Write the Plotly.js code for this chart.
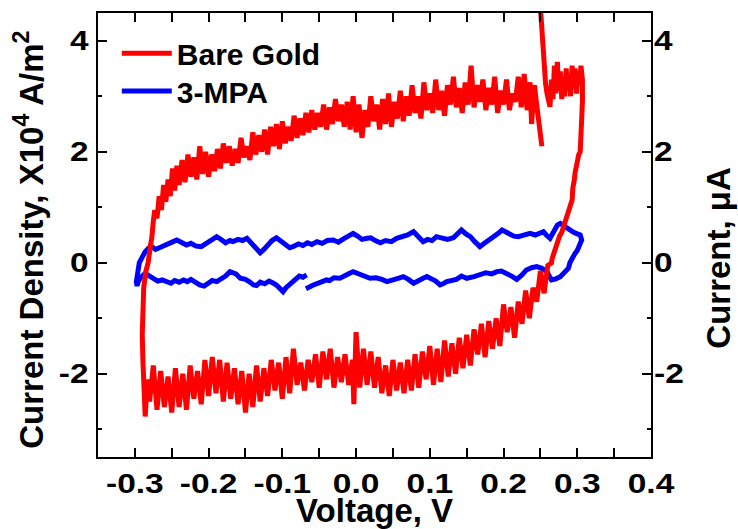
<!DOCTYPE html>
<html>
<head>
<meta charset="utf-8">
<script src="https://cdn.plot.ly/plotly-3.0.1.min.js"></script>
<style>html,body{margin:0;padding:0;background:#fff;}</style>
</head>
<body>
<div id="chart" style="width:738px;height:529px;"></div>
<script>
// Cyclic voltammograms: bare gold electrode vs. 3-MPA modified electrode.
// Voltage in V, current density in units of 1e4 A/m^2.

// Bare gold: initial surge at the positive end of the window
const goldSurgeV = [
  0.249, 0.2505, 0.252, 0.253, 0.254, 0.2555, 0.257, 0.259, 0.261, 0.263,
  0.265, 0.267, 0.269, 0.271, 0.273, 0.275, 0.277, 0.279, 0.281, 0.283,
  0.285, 0.287, 0.289, 0.291, 0.293, 0.295, 0.297, 0.299, 0.301, 0.303,
  0.305, 0.307
];
const goldSurgeJ = [
  4.80, 4.50, 4.19, 3.85, 3.53, 3.35, 3.23, 3.05, 2.93, 2.81,
  3.30, 2.95, 3.55, 3.05, 3.62, 3.10, 3.45, 2.95, 3.35, 3.00,
  3.50, 3.10, 3.40, 3.00, 3.55, 3.15, 3.50, 3.05, 3.45, 3.20,
  3.55, 3.30
];

// Bare gold: reverse (cathodic) sweep from +0.31 V down to -0.29 V
const goldReverseV = [
  0.307, 0.306, 0.305, 0.304, 0.302, 0.299, 0.297, 0.296, 0.294, 0.293,
  0.291, 0.288, 0.286, 0.284, 0.281, 0.279, 0.276, 0.274, 0.271, 0.268,
  0.266, 0.265, 0.260, 0.255, 0.250, 0.245, 0.240, 0.235, 0.230, 0.225,
  0.220, 0.215, 0.210, 0.205, 0.200, 0.195, 0.190, 0.185, 0.180, 0.175,
  0.170, 0.165, 0.160, 0.155, 0.150, 0.145, 0.140, 0.135, 0.130, 0.125,
  0.120, 0.115, 0.110, 0.105, 0.100, 0.095, 0.090, 0.085, 0.080, 0.075,
  0.070, 0.065, 0.060, 0.055, 0.050, 0.045, 0.040, 0.035, 0.030, 0.025,
  0.020, 0.015, 0.010, 0.005, 0.000, -0.003, -0.005, -0.010, -0.015, -0.020,
  -0.025, -0.030, -0.035, -0.040, -0.045, -0.050, -0.055, -0.060, -0.065, -0.070,
  -0.075, -0.080, -0.085, -0.090, -0.095, -0.100, -0.105, -0.110, -0.115, -0.120,
  -0.125, -0.130, -0.135, -0.140, -0.145, -0.150, -0.155, -0.160, -0.165, -0.170,
  -0.175, -0.180, -0.185, -0.190, -0.195, -0.200, -0.205, -0.210, -0.215, -0.220,
  -0.225, -0.230, -0.235, -0.240, -0.245, -0.250, -0.255, -0.260, -0.265, -0.270,
  -0.275, -0.280, -0.283, -0.286, -0.288, -0.289, -0.290, -0.2895, -0.288, -0.285,
  -0.282
];
const goldReverseJ = [
  2.90, 2.55, 2.30, 2.00, 1.95, 1.79, 1.62, 1.49, 1.35, 1.13,
  1.05, 0.89, 0.85, 0.72, 0.65, 0.55, 0.48, 0.41, 0.25, 0.17,
  0.08, 0.00, -0.05, -0.55, -0.15, -0.70, -0.45, -1.00, -0.50, -1.10,
  -0.70, -1.35, -0.80, -1.25, -0.75, -1.50, -1.00, -1.55, -1.05, -1.70,
  -1.10, -1.65, -1.20, -1.85, -1.30, -1.90, -1.35, -2.00, -1.45, -2.05,
  -1.40, -2.15, -1.55, -2.20, -1.50, -2.10, -1.60, -2.25, -1.65, -2.30,
  -1.75, -2.35, -1.80, -2.30, -1.75, -2.40, -1.85, -2.35, -1.70, -2.25,
  -1.60, -2.20, -1.55, -2.25, -1.25, -2.55, -1.75, -2.20, -1.65, -2.15,
  -1.70, -2.25, -1.55, -2.10, -1.60, -2.25, -1.65, -2.15, -1.75, -2.30,
  -1.80, -2.20, -1.55, -2.35, -1.70, -2.45, -1.80, -2.30, -1.75, -2.40,
  -1.90, -2.50, -1.85, -2.60, -2.00, -2.70, -1.95, -2.55, -1.90, -2.45,
  -1.80, -2.50, -1.75, -2.35, -1.70, -2.40, -1.75, -2.55, -1.95, -2.45,
  -1.85, -2.65, -2.00, -2.60, -1.90, -2.70, -2.05, -2.60, -1.95, -2.65,
  -1.85, -2.50, -2.10, -2.77, -2.30, -1.80, -1.30, -0.80, -0.45, -0.15,
  0.00
];

// Bare gold: forward (anodic) sweep back up to +0.25 V
const goldForwardV = [
  -0.279, -0.277, -0.275, -0.273, -0.270, -0.267, -0.264, -0.261, -0.258, -0.255,
  -0.252, -0.249, -0.246, -0.243, -0.240, -0.236, -0.232, -0.228, -0.224, -0.220,
  -0.216, -0.212, -0.208, -0.204, -0.200, -0.196, -0.192, -0.188, -0.184, -0.180,
  -0.176, -0.172, -0.168, -0.164, -0.160, -0.156, -0.152, -0.148, -0.144, -0.140,
  -0.136, -0.132, -0.128, -0.124, -0.120, -0.116, -0.112, -0.108, -0.104, -0.100,
  -0.096, -0.092, -0.088, -0.084, -0.080, -0.076, -0.072, -0.068, -0.064, -0.060,
  -0.056, -0.052, -0.048, -0.044, -0.040, -0.036, -0.032, -0.028, -0.024, -0.020,
  -0.016, -0.012, -0.008, -0.004, 0.000, 0.004, 0.008, 0.012, 0.016, 0.020,
  0.024, 0.028, 0.032, 0.036, 0.040, 0.044, 0.048, 0.052, 0.056, 0.060,
  0.064, 0.068, 0.072, 0.076, 0.080, 0.084, 0.088, 0.092, 0.096, 0.100,
  0.104, 0.108, 0.112, 0.116, 0.120, 0.124, 0.128, 0.132, 0.136, 0.140,
  0.144, 0.148, 0.152, 0.156, 0.160, 0.164, 0.168, 0.172, 0.176, 0.180,
  0.184, 0.188, 0.192, 0.196, 0.200, 0.204, 0.208, 0.212, 0.216, 0.220,
  0.224, 0.228, 0.232, 0.236, 0.238, 0.240, 0.242, 0.244, 0.246, 0.248,
  0.250, 0.252
];
const goldForwardJ = [
  0.30, 0.45, 0.75, 0.95, 0.80, 1.20, 0.95, 1.40, 1.10, 1.50,
  1.20, 1.70, 1.30, 1.75, 1.40, 1.85, 1.45, 1.95, 1.55, 1.90,
  1.50, 2.10, 1.60, 2.00, 1.55, 1.95, 1.65, 2.05, 1.70, 2.15,
  1.80, 2.10, 1.75, 2.05, 1.80, 2.25, 1.90, 2.10, 1.85, 2.35,
  1.95, 2.30, 2.00, 2.40, 1.95, 2.45, 2.10, 2.50, 2.05, 2.55,
  2.15, 2.45, 2.20, 2.65, 2.25, 2.60, 2.30, 2.70, 2.35, 2.75,
  2.40, 2.70, 2.45, 2.85, 2.40, 2.80, 2.50, 2.95, 2.55, 2.85,
  2.45, 2.90, 2.40, 3.00, 2.35, 2.85, 2.25, 2.75, 2.45, 3.00,
  2.55, 2.85, 2.40, 2.95, 2.50, 3.05, 2.45, 2.90, 2.60, 3.10,
  2.55, 3.00, 2.65, 3.20, 2.70, 3.00, 2.60, 3.25, 2.75, 3.05,
  2.70, 3.30, 2.75, 3.10, 2.65, 3.20, 2.85, 3.35, 2.80, 3.15,
  2.70, 3.25, 2.85, 3.55, 2.80, 3.20, 2.90, 3.30, 2.75, 3.15,
  2.85, 3.35, 2.70, 3.10, 2.85, 3.30, 2.75, 3.05, 2.90, 3.35,
  2.80, 3.40, 2.75, 3.25, 2.50, 3.05, 3.20, 2.95, 2.70, 2.45,
  2.25, 2.10
];

// 3-MPA modified electrode: one closed loop
const mpaV = [
  -0.067, -0.072, -0.077, -0.082, -0.085, -0.090, -0.095, -0.099, -0.104, -0.108,
  -0.112, -0.118, -0.124, -0.130, -0.135, -0.139, -0.145, -0.150, -0.157, -0.163,
  -0.167, -0.171, -0.177, -0.183, -0.189, -0.195, -0.200, -0.206, -0.212, -0.218,
  -0.224, -0.229, -0.234, -0.240, -0.246, -0.251, -0.257, -0.263, -0.269, -0.275,
  -0.280, -0.286, -0.290, -0.293, -0.296, -0.297, -0.298, -0.297, -0.296, -0.294,
  -0.290, -0.286, -0.281, -0.277, -0.272, -0.266, -0.260, -0.254, -0.248, -0.243,
  -0.237, -0.230, -0.224, -0.217, -0.210, -0.204, -0.197, -0.189, -0.183, -0.177,
  -0.171, -0.167, -0.160, -0.154, -0.148, -0.142, -0.136, -0.130, -0.125, -0.120,
  -0.114, -0.108, -0.102, -0.096, -0.090, -0.084, -0.078, -0.072, -0.066, -0.060,
  -0.053, -0.046, -0.039, -0.031, -0.024, -0.017, -0.010, -0.004, 0.002, 0.008,
  0.015, 0.020, 0.026, 0.033, 0.040, 0.048, 0.055, 0.062, 0.070, 0.078,
  0.084, 0.091, 0.097, 0.103, 0.109, 0.116, 0.124, 0.132, 0.138, 0.143,
  0.149, 0.155, 0.161, 0.168, 0.174, 0.180, 0.186, 0.192, 0.198, 0.204,
  0.209, 0.214, 0.220, 0.228, 0.236, 0.243, 0.249, 0.254, 0.258, 0.263,
  0.268, 0.273, 0.277, 0.282, 0.286, 0.290, 0.295, 0.300, 0.304, 0.306,
  0.303, 0.300, 0.297, 0.293, 0.290, 0.288, 0.283, 0.277, 0.271, 0.265,
  0.262, 0.259, 0.252, 0.245, 0.238, 0.231, 0.225, 0.218, 0.211, 0.204,
  0.197, 0.191, 0.184, 0.176, 0.168, 0.160, 0.150, 0.143, 0.136, 0.129,
  0.123, 0.118, 0.114, 0.108, 0.101, 0.096, 0.091, 0.085, 0.078, 0.071,
  0.064, 0.057, 0.050, 0.042, 0.035, 0.027, 0.019, 0.012, 0.005, -0.004,
  -0.010, -0.016, -0.022, -0.030, -0.036, -0.040, -0.046, -0.052, -0.058, -0.063,
  -0.068
];
const mpaJ = [
  -0.22, -0.26, -0.24, -0.30, -0.31, -0.38, -0.45, -0.52, -0.44, -0.40,
  -0.37, -0.33, -0.38, -0.35, -0.41, -0.40, -0.34, -0.30, -0.28, -0.20,
  -0.18, -0.16, -0.24, -0.30, -0.34, -0.32, -0.37, -0.42, -0.40, -0.34,
  -0.30, -0.34, -0.31, -0.35, -0.32, -0.37, -0.34, -0.31, -0.33, -0.28,
  -0.22, -0.19, -0.24, -0.28, -0.36, -0.42, -0.34, -0.22, -0.10, 0.00,
  0.10, 0.20, 0.27, 0.29, 0.24, 0.27, 0.30, 0.35, 0.38, 0.41,
  0.36, 0.32, 0.35, 0.30, 0.29, 0.34, 0.40, 0.47, 0.42, 0.36,
  0.40, 0.38, 0.42, 0.40, 0.44, 0.36, 0.26, 0.18, 0.24, 0.32,
  0.40, 0.45, 0.38, 0.32, 0.27, 0.30, 0.34, 0.31, 0.36, 0.33,
  0.38, 0.35, 0.40, 0.41, 0.37, 0.43, 0.48, 0.53, 0.48, 0.42,
  0.44, 0.45, 0.40, 0.36, 0.40, 0.38, 0.44, 0.47, 0.50, 0.56,
  0.47, 0.38, 0.42, 0.40, 0.47, 0.44, 0.42, 0.45, 0.52, 0.59,
  0.52, 0.47, 0.38, 0.29, 0.35, 0.40, 0.45, 0.52, 0.59, 0.55,
  0.50, 0.48, 0.47, 0.51, 0.53, 0.50, 0.54, 0.56, 0.50, 0.44,
  0.56, 0.68, 0.71, 0.66, 0.62, 0.60, 0.55, 0.52, 0.50, 0.41,
  0.30, 0.22, 0.17, 0.08, 0.00, -0.10, -0.18, -0.25, -0.29, -0.31,
  -0.24, -0.16, -0.10, -0.07, -0.09, -0.13, -0.22, -0.30, -0.24, -0.19,
  -0.15, -0.16, -0.20, -0.18, -0.22, -0.25, -0.28, -0.24, -0.30, -0.32,
  -0.34, -0.38, -0.40, -0.33, -0.27, -0.25, -0.28, -0.33, -0.37, -0.30,
  -0.25, -0.28, -0.31, -0.34, -0.30, -0.27, -0.28, -0.25, -0.22, -0.16,
  -0.20, -0.25, -0.28, -0.27, -0.32, -0.31, -0.35, -0.37, -0.40, -0.44,
  -0.47
];

// Axis ticks and labels
const xTickVals = [-0.3, -0.2, -0.1, 0.0, 0.1, 0.2, 0.3, 0.4];
const xTickText = ['-0.3', '-0.2', '-0.1', '0.0', '0.1', '0.2', '0.3', '0.4'];
const yTickVals = [-2, 0, 2, 4];
const yTickText = ['-2', '0', '2', '4'];

const goldV = [].concat(goldSurgeV, goldReverseV, goldForwardV);
const goldJ = [].concat(goldSurgeJ, goldReverseJ, goldForwardJ);

const tickFont = {family: 'Liberation Sans', size: 27, weight: 'bold', color: '#000'};
const titleFont = {family: 'Liberation Sans', size: 33, weight: 'bold', color: '#000'};
const legendFont = {family: 'Liberation Sans', size: 30, weight: 'bold', color: '#000'};

const traces = [
  {
    x: mpaV, y: mpaJ, name: '3-MPA', mode: 'lines', legend: 'legend2',
    line: {color: '#0000FF', width: 5}, hoverinfo: 'skip'
  },
  {
    x: goldV, y: goldJ, name: 'Bare Gold', mode: 'lines', legend: 'legend',
    line: {color: '#FF0000', width: 5}, hoverinfo: 'skip'
  },
  {
    x: [], y: [], yaxis: 'y2', showlegend: false, hoverinfo: 'skip', mode: 'lines'
  }
];

const legendBase = {
  xanchor: 'left', yanchor: 'top', bgcolor: 'rgba(0,0,0,0)', borderwidth: 0,
  font: legendFont, itemwidth: 50
};

const layout = {
  width: 738, height: 529,
  margin: {l: 98, r: 87, t: 13, b: 72, pad: 0},
  paper_bgcolor: '#fff', plot_bgcolor: '#fff',
  showlegend: true,
  legend: Object.assign({x: 0.034, y: 0.968}, legendBase),
  legend2: Object.assign({x: 0.034, y: 0.883}, legendBase),
  xaxis: {
    range: [-0.35, 0.4], tickmode: 'array', tickvals: xTickVals, ticktext: xTickText,
    ticks: 'inside', ticklen: 9, tickwidth: 2, tickcolor: '#000', ticklabelstandoff: 2,
    showline: true, linewidth: 2, linecolor: '#000', mirror: 'allticks',
    showgrid: false, zeroline: false, tickfont: tickFont,
    minor: {tickmode: 'linear', tick0: 0, dtick: 0.05, ticks: 'inside', ticklen: 4, tickwidth: 2, tickcolor: '#000', showgrid: false}
  },
  yaxis: {
    range: [-3.5, 4.5], tickmode: 'array', tickvals: yTickVals, ticktext: yTickText,
    ticks: 'inside', ticklen: 9, tickwidth: 2, tickcolor: '#000', ticklabelstandoff: 2,
    showline: true, linewidth: 2, linecolor: '#000', mirror: 'allticks',
    showgrid: false, zeroline: false, tickfont: tickFont,
    minor: {tickmode: 'linear', tick0: 0, dtick: 1, ticks: 'inside', ticklen: 4, tickwidth: 2, tickcolor: '#000', showgrid: false}
  },
  yaxis2: {
    overlaying: 'y', side: 'right', anchor: 'x',
    range: [-3.5, 4.5], tickmode: 'array', tickvals: yTickVals, ticktext: yTickText,
    ticks: '', ticklabelstandoff: 2, showline: false, showgrid: false, zeroline: false, tickfont: tickFont
  },
  annotations: [
    {text: 'Voltage, V', xref: 'paper', yref: 'paper', x: 0.5, y: -0.121,
     xanchor: 'center', yanchor: 'middle', showarrow: false, font: titleFont},
    {text: 'Current Density, X10<sup>4</sup> A/m<sup>2</sup>', xref: 'paper', yref: 'paper',
     x: -0.125, y: 0.489, xanchor: 'center', yanchor: 'middle', textangle: -90,
     showarrow: false, font: titleFont},
    {text: 'Current, \u03bcA', xref: 'paper', yref: 'paper',
     x: 1.123, y: 0.449, xanchor: 'center', yanchor: 'middle', textangle: -90,
     showarrow: false, font: titleFont}
  ]
};

// Tick numerals are set in a horizontally widened face
function widenTickLabels(gd) {
  gd.querySelectorAll('.xtick text, .ytick text, .y2tick text').forEach(function (t) {
    const w = t.getComputedTextLength();
    t.setAttribute('textLength', (w * 1.24).toFixed(1));
    t.setAttribute('lengthAdjust', 'spacingAndGlyphs');
  });
}

Plotly.newPlot('chart', traces, layout, {displayModeBar: false, staticPlot: true})
  .then(widenTickLabels);
</script>
</body>
</html>
